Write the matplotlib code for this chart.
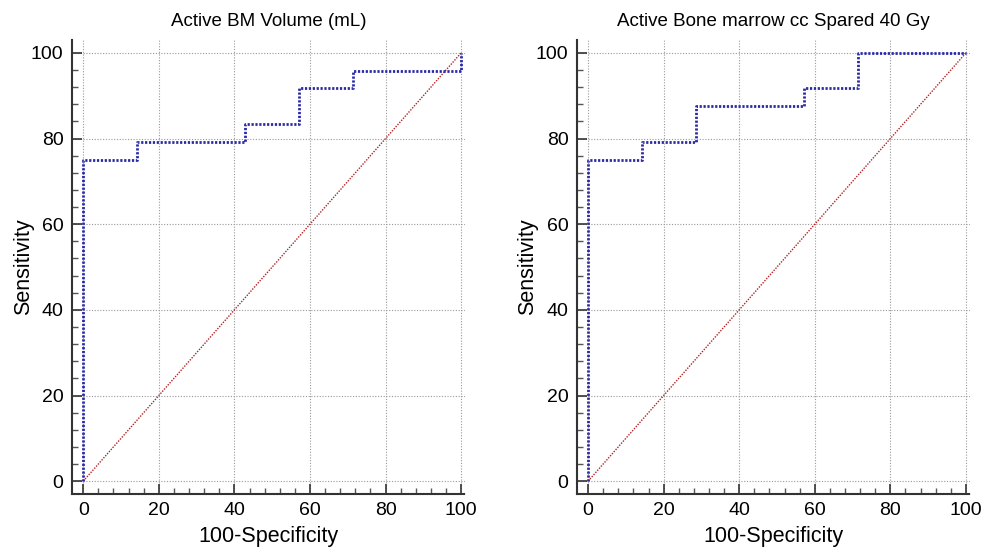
import matplotlib
matplotlib.use("Agg")
import matplotlib.pyplot as plt
import numpy as np
from matplotlib.ticker import MultipleLocator

plt.rcParams["font.family"] = ["Liberation Sans", "DejaVu Sans"]

# ROC step curves (100-Specificity, Sensitivity)
titles = ["Active BM Volume (mL)", "Active Bone marrow cc Spared 40 Gy"]
fpr_bm = [0, 0, 14.3, 14.3, 42.9, 42.9, 57.1, 57.1, 71.4, 71.4, 100, 100]
tpr_bm = [0, 75, 75, 79.2, 79.2, 83.3, 83.3, 91.7, 91.7, 95.8, 95.8, 100]
fpr_sp = [0, 0, 14.3, 14.3, 28.6, 28.6, 57.1, 57.1, 71.4, 71.4, 100]
tpr_sp = [0, 75, 75, 79.2, 79.2, 87.5, 87.5, 91.7, 91.7, 100, 100]
curves = [(fpr_bm, tpr_bm), (fpr_sp, tpr_sp)]
diag = [0, 100]
ticks = [0, 20, 40, 60, 80, 100]

fig = plt.figure(figsize=(9.85, 5.56), dpi=100)
lefts = [0.073, 0.5855]

for left, title, (fx, ty) in zip(lefts, titles, curves):
    ax = fig.add_axes([left, 0.1115, 0.399, 0.8165])
    ax.set_xlim(-3, 101)
    ax.set_ylim(-3, 103)
    ax.grid(True, color="#999999", linestyle=(0, (1, 1.5)), linewidth=0.8)
    ax.set_axisbelow(True)

    # chance line and ROC curve
    ax.plot(diag, diag, color="#b22222", linestyle=(0, (1, 1)), linewidth=1.0)
    ax.plot(fx, ty, color="#2a2aa8", linestyle=(0, (0.8, 0.6)), linewidth=2.0)

    for side in ["top", "right"]:
        ax.spines[side].set_visible(False)
    for side in ["left", "bottom"]:
        ax.spines[side].set_linestyle((0, (1, 0.8)))
        ax.spines[side].set_linewidth(1.5)
        ax.spines[side].set_color("#333333")

    ax.set_xticks(ticks)
    ax.set_yticks(ticks)
    ax.xaxis.set_minor_locator(MultipleLocator(4))
    ax.yaxis.set_minor_locator(MultipleLocator(4))
    ax.tick_params(which="major", direction="in", length=7, width=1.2,
                   labelsize=14, color="#333333", pad=6)
    ax.tick_params(which="minor", direction="in", length=4, width=1,
                   color="#555555")

    ax.set_xlabel("100-Specificity", fontsize=15.5, labelpad=5)
    ax.set_ylabel("Sensitivity", fontsize=15.5, labelpad=-2)
    ax.set_title(title, fontsize=13.5, pad=10)

fig.savefig("out.png", dpi=100)
